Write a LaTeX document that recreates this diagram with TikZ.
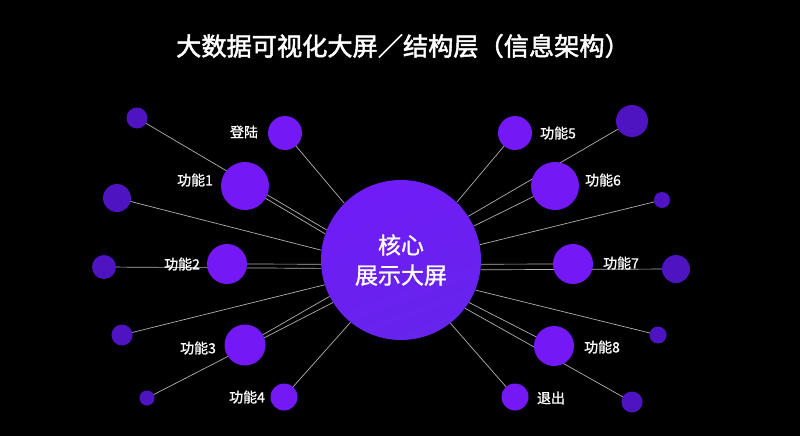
\documentclass[tikz,border=0pt]{standalone}
\usepackage{fontspec}
\setmainfont{Noto Sans CJK SC}
\newfontfamily\medfont{Noto Sans CJK SC}[FakeBold=1.2]
\newfontfamily\titlefont{Noto Sans CJK SC}[FakeBold=2]
\pgfdeclarelayer{bgl}
\pgfdeclarelayer{lines}
\pgfsetlayers{bgl,lines,main}
\definecolor{bright}{HTML}{7419F5}
\definecolor{darkv}{HTML}{4F14C2}
\definecolor{corecol}{HTML}{701CF6}
\definecolor{corelow}{HTML}{6624EC}
\definecolor{linecol}{HTML}{B0B0B0}
\tikzset{
  ball/.style={circle, fill=bright, inner sep=0pt, minimum size=#1},
  dball/.style={circle, fill=darkv, inner sep=0pt, minimum size=#1},
  lab/.style={text=white, inner sep=0pt, font=\medfont\fontsize{14}{16}\selectfont},
  link/.style={draw=linecol, line width=0.7pt},
}
\begin{document}
\begin{tikzpicture}[x=1pt,y=-1pt]
\begin{pgfonlayer}{bgl}
\fill[black] (0,0) rectangle (800,436);
\end{pgfonlayer}
\useasboundingbox (0,0) rectangle (800,436);

\node[text=white, font=\titlefont\fontsize{25.2}{28}\selectfont] (title) at (403,46) {大数据可视化大屏／结构层（信息架构）};

\node[circle, minimum size=160pt, inner sep=0pt, top color=corecol, bottom color=corelow, shading angle=20, text=white, align=center, font=\medfont\fontsize{23}{30}\selectfont] (core) at (401,260) {核心\\展示大屏};

% left side
\node[dball=21pt] (dl1) at (137,118) {};
\node[ball=34pt] (login) at (285,133) {};
\node[ball=48pt] (f1) at (245,186) {};
\node[dball=28pt] (dl2) at (117,198) {};
\node[ball=40pt] (f2) at (227,264) {};
\node[dball=24pt] (dl3) at (104,267) {};
\node[dball=21pt] (dl4) at (122,335) {};
\node[ball=41pt] (f3) at (245,345) {};
\node[dball=15pt] (dl5) at (147,398) {};
\node[ball=27pt] (f4) at (284,397) {};
% right side
\node[ball=34pt] (f5) at (515,133) {};
\node[dball=32pt] (dr1) at (632,121) {};
\node[ball=48pt] (f6) at (555,186) {};
\node[dball=16pt] (dr2) at (662,200) {};
\node[ball=40pt] (f7) at (573,264) {};
\node[dball=28pt] (dr3) at (676,269) {};
\node[dball=17pt] (dr4) at (658,335) {};
\node[ball=40pt] (f8) at (554,346) {};
\node[dball=21pt] (dr5) at (632,402) {};
\node[ball=27pt] (exit) at (515,397) {};

% labels
\node[lab] (tlogin) at (244,132) {登陆};
\node[lab] (t1) at (195,180) {功能1};
\node[lab] (t2) at (182,264) {功能2};
\node[lab] (t3) at (198,348) {功能3};
\node[lab] (t4) at (247,397) {功能4};
\node[lab] (t5) at (558,133) {功能5};
\node[lab] (t6) at (603,180) {功能6};
\node[lab] (t7) at (621,263) {功能7};
\node[lab] (t8) at (602,347) {功能8};
\node[lab] (texit) at (551,398) {退出};

\begin{pgfonlayer}{lines}
\draw[link] (login.center) -- (core.135);
\draw[link] (dl1.center) -- (core.158);
\draw[link] (f1.center) -- (core.161);
\draw[link] (dl2.center) -- (core.173);
\draw[link] (f2.center) -- (core.183);
\draw[link] (dl3.center) -- (core.186);
\draw[link] (dl4.center) -- (core.198);
\draw[link] (f3.center) -- (core.207);
\draw[link] (dl5.center) -- (core.212);
\draw[link] (f4.center) -- (core.231);
\draw[link] (f5.center) -- (core.46);
\draw[link] (dr1.center) -- (core.33);
\draw[link] (f6.center) -- (core.25);
\draw[link] (dr2.center) -- (core.11);
\draw[link] (f7.center) -- (core.357);
\draw[link] (dr3.center) -- (core.353);
\draw[link] (dr4.center) -- (core.338);
\draw[link] (f8.center) -- (core.328);
\draw[link] (dr5.center) -- (core.323);
\draw[link] (exit.center) -- (core.308);
\end{pgfonlayer}
\end{tikzpicture}
\end{document}
